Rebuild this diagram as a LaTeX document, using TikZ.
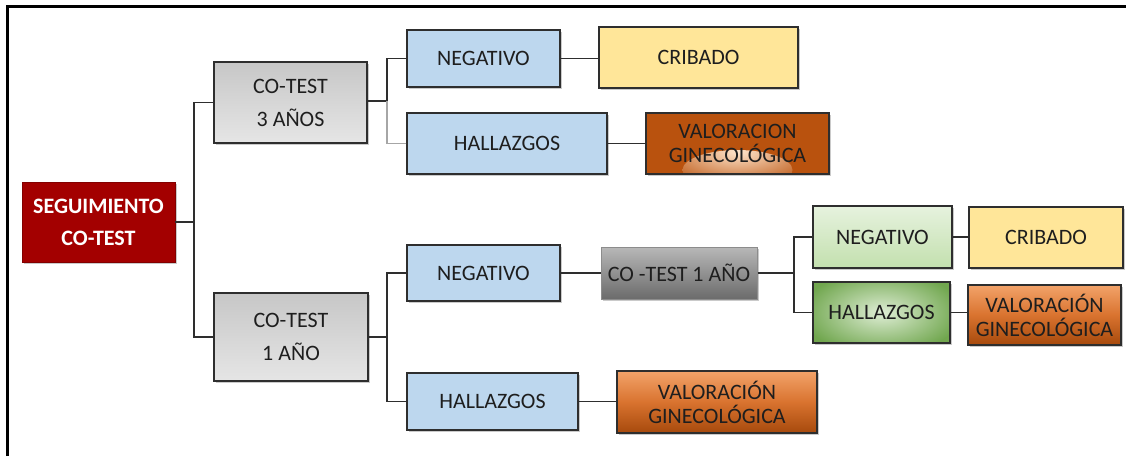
\documentclass[tikz,border=0pt]{standalone}
\usepackage{fontspec}
\setmainfont{Carlito}
\usetikzlibrary{shadows,calc}
\definecolor{rootred}{HTML}{A30000}
\definecolor{blueb}{HTML}{BDD7EE}
\definecolor{yellowb}{HTML}{FFE699}
\definecolor{edge}{HTML}{2E2E2E}
\definecolor{txt}{HTML}{1E1E1E}
\definecolor{orgdark}{HTML}{B9520E}
\definecolor{orgmid}{HTML}{D9732F}
\definecolor{orglight}{HTML}{F2A36A}
\definecolor{greenlt}{HTML}{E6F2DE}
\definecolor{greenmd}{HTML}{C3E0AE}
\definecolor{greendk}{HTML}{7DB957}
\begin{document}
\begin{tikzpicture}[x=1pt,y=-1pt,
  box/.style={draw=edge,line width=1.5pt,inner sep=0pt,align=center,
    text=txt,font=\fontsize{22}{24}\selectfont,
    drop shadow={shadow xshift=1.5pt,shadow yshift=-1.5pt,opacity=0.35,fill=black!60}},
  rootbox/.style={box,fill=rootred,draw=rootred!80!black,line width=0.8pt,text=white,
    font=\fontsize{22}{32}\selectfont\bfseries},
  graybox/.style={box,top color=black!22,bottom color=black!10,
    font=\fontsize{22}{33}\selectfont},
  bluebox/.style={box,fill=blueb},
  yellowbox/.style={box,fill=yellowb},
  orangebox/.style={box,top color=orglight,bottom color=orgdark!90!black,middle color=orgmid},
  darkorange/.style={box,fill=orgdark,
    path picture={\shade[inner color=orange!20!white,outer color=orgdark]
      ($(path picture bounding box.south)+(0,-4)$) ellipse (55 and 20);}},
  darkgray/.style={box,top color=black!28,bottom color=black!58,draw=black!45,line width=1pt},
  greenlight/.style={box,top color=greenlt,bottom color=greenmd},
  greendark/.style={box,fill=greendk!90!black,
    path picture={\shade[inner color=greendk!25!white,outer color=greendk!90!black]
      (path picture bounding box.center) ellipse (80 and 42);}},
  conn/.style={draw=edge,line width=1.3pt},
  connlt/.style={draw=black!35,line width=1.3pt}
]
\useasboundingbox (0,0) rectangle (1126,456);
% frame
\draw[black,line width=2.4pt] (7.5,456) -- (7.5,6.5) -- (1126,6.5);

\node[rootbox,minimum width=153,minimum height=80] (root) at (98.5,222) {SEGUIMIENTO\\CO-TEST};
\node[graybox,minimum width=153,minimum height=81] (c3) at (290.5,102.5) {CO-TEST\\3 AÑOS};
\node[graybox,minimum width=154,minimum height=88] (c1) at (291,337) {CO-TEST\\1 AÑO};

\node[bluebox,minimum width=153,minimum height=57] (neg1) at (483.5,58.5) {NEGATIVO};
\node[yellowbox,minimum width=199,minimum height=61] (crib1) at (698.5,57.5) {CRIBADO};
\node[bluebox,minimum width=200,minimum height=61] (hal1) at (507,143.5) {HALLAZGOS};
\node[darkorange,minimum width=183,minimum height=61] (val1) at (737.5,143.5) {VALORACION\\GINECOLÓGICA};

\node[bluebox,minimum width=153,minimum height=56] (neg2) at (483.5,273) {NEGATIVO};
\node[darkgray,minimum width=156,minimum height=52] (ct1) at (679,273) {CO -TEST 1 AÑO};
\node[bluebox,minimum width=171,minimum height=57] (hal2) at (492.5,401.5) {HALLAZGOS};
\node[orangebox,minimum width=200,minimum height=62] (val2) at (717,402) {VALORACIÓN\\GINECOLÓGICA};

\node[greenlight,minimum width=139,minimum height=62] (neg3) at (882.5,237) {NEGATIVO};
\node[yellowbox,minimum width=154,minimum height=61] (crib2) at (1046,237.5) {CRIBADO};
\node[greendark,minimum width=137,minimum height=61] (hal3) at (881.5,312.5) {HALLAZGOS};
\node[orangebox,minimum width=153,minimum height=60] (val3) at (1044.5,315) {VALORACIÓN\\GINECOLÓGICA};

\coordinate (j1) at (194,222);
\coordinate (j2) at (387,101);
\coordinate (j3) at (387,337);
\coordinate (j4) at (794,273);

\draw[conn] (root.east) -- (j1);
\draw[conn] (c3.west) -| (j1);
\draw[conn] (c1.west) -| (j1);

\draw[conn] (c3.east |- j2) -- (j2);
\draw[conn] (neg1.west) -| (j2);
\draw[connlt] (hal1.west) -| (j2);
\draw[conn] (neg1.east) -- (neg1.east -| crib1.west);
\draw[conn] (hal1.east) -- (val1.west);

\draw[conn] (c1.east) -- (j3);
\draw[conn] (neg2.west) -| (j3);
\draw[conn] (hal2.west) -| (j3);
\draw[conn] (neg2.east) -- (ct1.west);
\draw[conn] (hal2.east) -- (hal2.east -| val2.west);

\draw[conn] (ct1.east) -- (j4);
\draw[conn] (neg3.west) -| (j4);
\draw[conn] (hal3.west) -| (j4);
\draw[conn] (neg3.east) -- (neg3.east -| crib2.west);
\draw[conn] (hal3.east) -- (hal3.east -| val3.west);
\end{tikzpicture}
\end{document}
